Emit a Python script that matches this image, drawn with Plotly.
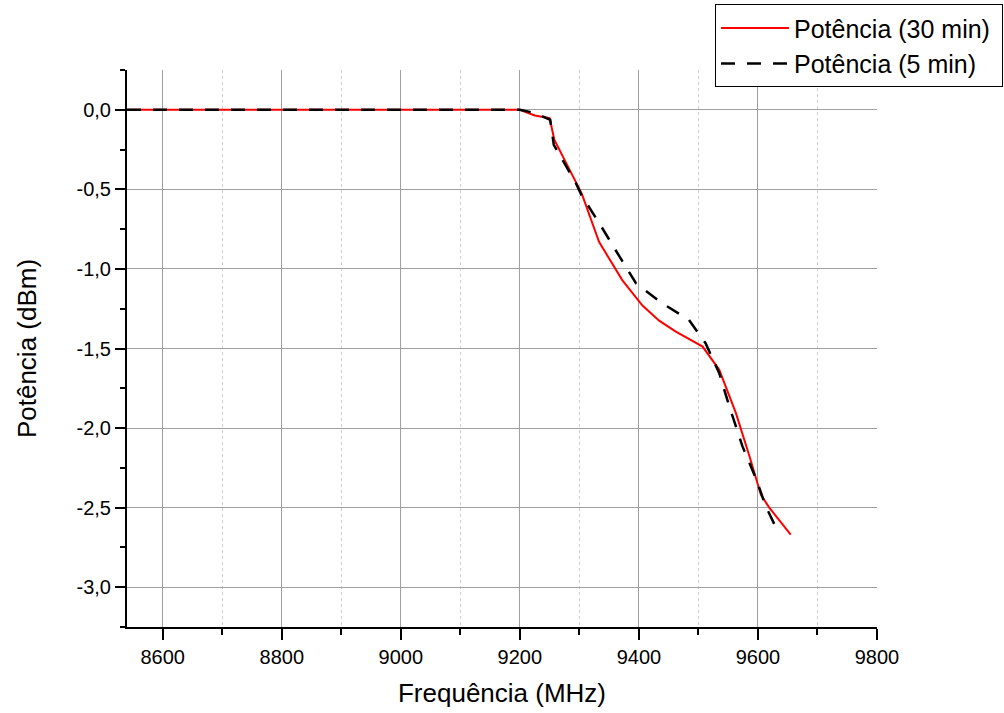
import plotly.graph_objects as go

# Data
freq_30 = [8540, 9200, 9225, 9250, 9258, 9282, 9304, 9333, 9372, 9406, 9434, 9462,
           9507, 9535, 9563, 9586, 9605, 9619, 9655]
pot_30 = [0.0, 0.0, -0.036, -0.053, -0.19, -0.37, -0.527, -0.83, -1.07, -1.23, -1.325,
          -1.394, -1.488, -1.634, -1.906, -2.18, -2.42, -2.50, -2.67]

freq_5 = [8540, 9200, 9225, 9251, 9257, 9294, 9304, 9333, 9367, 9395, 9439, 9484,
          9512, 9535, 9552, 9574, 9597, 9613, 9636]
pot_5 = [0.0, 0.0, -0.02, -0.063, -0.22, -0.46, -0.54, -0.71, -0.92, -1.09, -1.216,
         -1.32, -1.467, -1.655, -1.865, -2.115, -2.32, -2.49, -2.67]

x_ticks = [8600, 8800, 9000, 9200, 9400, 9600, 9800]
x_ticktext = ["8600", "8800", "9000", "9200", "9400", "9600", "9800"]
y_ticks = [0.0, -0.5, -1.0, -1.5, -2.0, -2.5, -3.0]
y_ticktext = ["0,0", "-0,5", "-1,0", "-1,5", "-2,0", "-2,5", "-3,0"]

FONT = "Liberation Sans, Arial, sans-serif"

fig = go.Figure()
fig.add_trace(go.Scatter(x=freq_30, y=pot_30, mode="lines", name="Potência (30 min) ",
                         line=dict(color="#ff0000", width=2)))
fig.add_trace(go.Scatter(x=freq_5, y=pot_5, mode="lines", name="Potência (5 min)",
                         line=dict(color="#000000", width=2.5, dash="14px,12px")))

fig.update_layout(
    width=1004, height=713,
    margin=dict(l=127, r=127, t=70, b=86, autoexpand=False),
    paper_bgcolor="white", plot_bgcolor="white",
    font=dict(family=FONT, color="black", size=20),
    legend=dict(
        xref="container", yref="container",
        x=0.999, y=0.994, xanchor="right", yanchor="top",
        bordercolor="black", borderwidth=1, bgcolor="white",
        font=dict(size=25, family=FONT, color="black"),
        itemwidth=68, tracegroupgap=0,
    ),
    xaxis=dict(
        range=[8540, 9800],
        tickvals=x_ticks, ticktext=x_ticktext,
        showline=True, linecolor="black", linewidth=2,
        ticks="outside", ticklen=11, tickwidth=2, tickcolor="black",
        showgrid=True, gridcolor="#a0a0a0", gridwidth=1,
        zeroline=False,
        tickfont=dict(size=20, family=FONT),
        title=dict(text="Frequência (MHz)", font=dict(size=26, family=FONT), standoff=17),
        minor=dict(dtick=100, tick0=8500, ticks="outside", ticklen=6, tickwidth=2,
                   tickcolor="black", showgrid=True, gridcolor="#d0d0d0",
                   griddash="dot", gridwidth=1),
    ),
    yaxis=dict(
        range=[-3.25, 0.25],
        tickvals=y_ticks, ticktext=y_ticktext,
        showline=True, linecolor="black", linewidth=2,
        ticks="outside", ticklen=10, tickwidth=2, tickcolor="black",
        showgrid=True, gridcolor="#a0a0a0", gridwidth=1,
        zeroline=False,
        tickfont=dict(size=20, family=FONT),
        title=dict(text="Potência (dBm)", font=dict(size=26, family=FONT), standoff=32),
        minor=dict(dtick=0.25, tick0=0.25, ticks="outside", ticklen=5, tickwidth=2,
                   tickcolor="black", showgrid=False),
    ),
)

fig.write_html("out.html")
